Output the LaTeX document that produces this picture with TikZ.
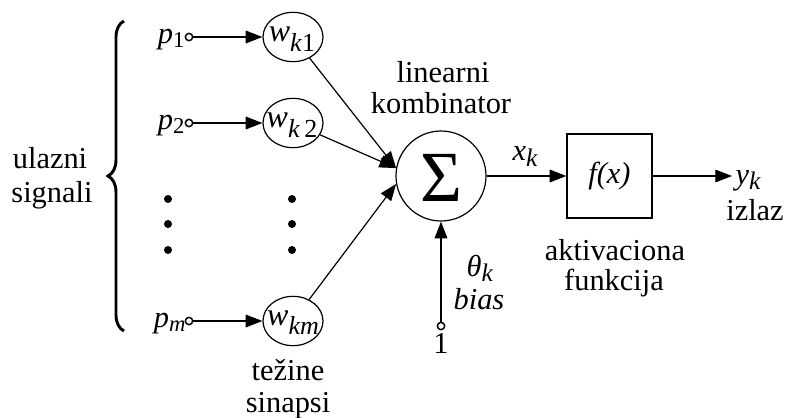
\documentclass[tikz,border=0pt]{standalone}
\usepackage{fontspec}
\setmainfont{Liberation Serif}
\usetikzlibrary{arrows.meta,decorations.pathreplacing,shapes.geometric}
\newcommand{\lowr}[3]{\raisebox{-#1}{\fontsize{#2}{#2}\selectfont #3}}
\begin{document}
\begin{tikzpicture}[x=0.75pt,y=-0.75pt,
  font=\fontsize{22.8}{26}\selectfont,
  line width=0.9pt,
  arr/.style={-{Triangle[length=12.5pt,width=9.5pt]}},
  term/.style={circle,draw,fill=white,inner sep=0pt,minimum size=5.5pt,line width=1.1pt},
  wnode/.style={ellipse,draw,inner sep=0pt,minimum width=45pt,minimum height=37pt},
  lbl/.style={inner sep=0pt,anchor=base},
  lble/.style={inner sep=0pt,anchor=base east},
  lblw/.style={inner sep=0pt,anchor=base west},
  dotm/.style={circle,fill,inner sep=0pt,minimum size=6pt}]
\useasboundingbox (0,0) rectangle (786,418);

% brace
\draw[line width=2.2pt,decorate,decoration={brace,amplitude=12pt}] (124,331) -- (124,21);
\node[lbl] (ul) at (50,168) {ulazni};
\node[lbl] (sg) at (52,202) {signali};

% input terminals
\node[term] (i1) at (189,37) {};
\node[term] (i2) at (189,123) {};
\node[term] (im) at (189,321) {};
\node[lble] (p1) at (185,43) {\textit{p}\lowr{3.5pt}{17}{1}};
\node[lble] (p2) at (185,129) {\textit{p}\lowr{3.5pt}{17}{2}};
\node[lble] (pm) at (186,327) {\textit{p}\lowr{3.5pt}{17}{\textit{m}}};

% weights
\node[wnode] (w1) at (293,37) {};
\node[wnode] (w2) at (293,123) {};
\node[wnode] (wm) at (293,321) {};
\node[lbl] (tw1) at (292,41) {{\fontsize{24}{24}\selectfont\textit{w}}\lowr{7.5pt}{19.5}{\textit{k}1}};
\node[lbl] (tw2) at (292,127) {{\fontsize{24}{24}\selectfont\textit{w}}\lowr{7.5pt}{19.5}{\textit{k}\,2}};
\node[lbl] (twm) at (293,325) {{\fontsize{24}{24}\selectfont\textit{w}}\lowr{7pt}{19.5}{\textit{km}}};

\draw[arr] (i1) -- (w1);
\draw[arr] (i2) -- (w2);
\draw[arr] (im) -- (wm);

% dots
\node[dotm] (d1) at (168,199) {};
\node[dotm] (d2) at (168,224) {};
\node[dotm] (d3) at (168,250) {};
\node[dotm] (d4) at (292,199) {};
\node[dotm] (d5) at (292,224) {};
\node[dotm] (d6) at (292,250) {};

\node[lbl] (tz) at (288,380) {težine};
\node[lbl] (sn) at (288,412) {sinapsi};

% summation
\node[circle,draw,minimum size=67.5pt,inner sep=0pt] (S) at (441,176) {};
\node (tS) at (441,178) {\fontsize{54}{54}\selectfont Σ};
\draw[arr] (w1) -- (S.170);
\draw[arr] (w2) -- (S.170);
\draw[arr] (wm) -- (S.190);
\node[lbl] (ln) at (443,82) {linearni};
\node[lbl] (kb) at (441,113) {kombinator};

% bias
\node[term] (b) at (441,326) {};
\draw[arr] (b) -- (S.south);
\node[lbl] (one) at (441,353) {1};
\node[lblw] (th) at (466,276) {\textit{θ}\lowr{4pt}{19}{\textit{k}}};
\node[lblw] (bs) at (453,309) {\textit{bias}};

% activation
\node[draw,minimum width=63.75pt,minimum height=63pt,inner sep=0pt] (F) at (609.5,176) {\textit{f(x)}};
\draw[arr] (S) -- (F);
\node[lblw] (xk) at (512,160) {\textit{x}\lowr{5pt}{19}{\textit{k}}};
\node[lbl] (ak) at (615,260) {aktivaciona};
\node[lbl] (fk) at (614,290) {funkcija};

% output
\coordinate (out) at (732,176);
\draw[arr] (F) -- (out);
\node[lblw] (yk) at (735,184) {\textit{y}\lowr{4pt}{19}{\textit{k}}};
\node[lbl] (iz) at (755,220) {izlaz};
\end{tikzpicture}
\end{document}
